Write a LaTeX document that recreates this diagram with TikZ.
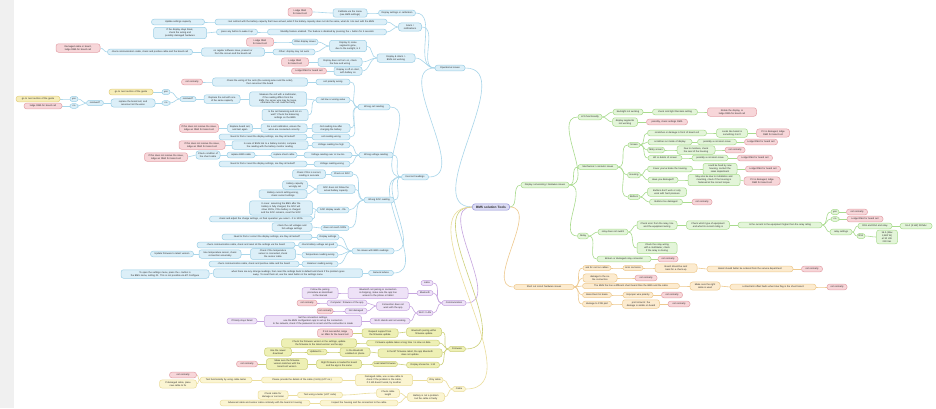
\documentclass[tikz,border=0pt]{standalone}
\usepackage{fontspec}
\setmainfont{Liberation Sans}
\pgfdeclarelayer{bgA}\pgfdeclarelayer{bgB}\pgfsetlayers{bgA,bgB,main}
\definecolor{bluF}{HTML}{DCEFF8}\definecolor{bluD}{HTML}{9CCFE6}\definecolor{bluE}{HTML}{A9D6EA}
\definecolor{pkF}{HTML}{F7D6D9}\definecolor{pkD}{HTML}{E4A1A8}
\definecolor{grnF}{HTML}{E3F5D9}\definecolor{grnD}{HTML}{A9DB8E}
\definecolor{ornF}{HTML}{FCEBCF}\definecolor{ornD}{HTML}{EEC98E}
\definecolor{purF}{HTML}{EEE2F7}\definecolor{purD}{HTML}{C6A5DF}
\definecolor{oliF}{HTML}{EEF0B5}\definecolor{oliD}{HTML}{CDD07A}
\definecolor{lyeF}{HTML}{FBF5D2}\definecolor{lyeD}{HTML}{EBDD9C}
\definecolor{yelF}{HTML}{F6EDB9}\definecolor{yelD}{HTML}{E3CF80}
\definecolor{ceF}{HTML}{DCDCF4}\definecolor{ceD}{HTML}{8F8FD6}
\tikzset{
 base/.style={rounded corners=2.5pt, inner xsep=1.5pt, inner ysep=1.7pt, align=center,
   font=\fontsize{2.35}{2.9}\selectfont, line width=0.5pt, text=black!85},
 blu/.style={base, fill=bluF, draw=bluD},
 pk/.style={base, fill=pkF, draw=pkD},
 grn/.style={base, fill=grnF, draw=grnD},
 orn/.style={base, fill=ornF, draw=ornD},
 pur/.style={base, fill=purF, draw=purD},
 oli/.style={base, fill=oliF, draw=oliD},
 lye/.style={base, fill=lyeF, draw=lyeD},
 yel/.style={base, fill=yelF, draw=yelD},
 ce/.style={base, fill=ceF, draw=ceD, inner ysep=2pt, font=\fontsize{3.2}{3.8}\selectfont\bfseries},
 eblu/.style={draw=bluE, line width=0.6pt},
 egrn/.style={draw=grnD, line width=0.6pt},
 eorn/.style={draw=ornD, line width=0.6pt},
 epur/.style={draw=purD, line width=0.6pt},
 eoli/.style={draw=oliD, line width=0.6pt},
 elye/.style={draw=lyeD, line width=0.6pt},
}
\newcommand\MN[6]{\node[#2,text width=#5pt] (#1) at (#3,#4) {#6};}
\begin{document}
\begin{tikzpicture}[x=1pt,y=-1pt]
\useasboundingbox (0,0) rectangle (936,408);
\begin{pgfonlayer}{bgA}
\fill[white] (0,0) rectangle (936,408);
\fill[black!6] (0,0) rectangle (14,408);
\end{pgfonlayer}
% center
\MN{ctr}{ce}{491}{207}{34}{BMS solution Tools}
% ---------------- BLUE -----------------
\MN{op}{blu}{450}{68}{27}{Operational issues}
\MN{al}{blu}{410}{27}{20}{Alarm /\\notifications}
\MN{ds}{blu}{397}{13}{34}{Display settings or calibration}
\MN{dsa}{blu}{350}{13}{31}{Calibrate via the menu\\(see BMS settings)}
\MN{dsb}{pk}{300}{12}{21}{Lodge RMA for board cell}
\MN{ala}{blu}{301}{22}{169}{I set cell/cell with the battery capacity that have arrived, what if the battery capacity does not do the same, what do I do next with the BMS}
\MN{alaa}{blu}{178}{22}{50}{Update settings capacity}
\MN{alb}{blu}{327}{32}{116}{Standby feature enabled. The feature is disabled by pressing the + button for 3 seconds}
\MN{alba}{blu}{237}{32}{38}{press any button to wake it up}
\MN{albb}{blu}{180}{33}{50}{If the display stays black,\\check the wiring and\\possibly damaged hardware}
\MN{dn}{blu}{396}{58}{35}{Display \& Alarm > BMS not working}
\MN{dna}{blu}{348}{46}{34}{Display lit, some segments gone,\\due to the sunlight, is it}
\MN{dnaa}{blu}{305}{42}{23}{Other display issues}
\MN{dnaaa}{pk}{260}{42}{24}{Lodge RMA for board cell}
\MN{dnab}{blu}{294}{52}{39}{Other: display may not work}
\MN{dnaba}{blu}{233}{52}{60}{no regular software issue, present or\\from the screen and the board cell}
\MN{dnabb}{blu}{150}{52}{82}{check communication cable, check and positive cable and the board cell}
\MN{dnabc}{pk}{78}{48}{41}{Damaged cable or board,\\lodge RMA for board cell}
\MN{dnb}{blu}{340}{62}{41}{Display does not turn on, check\\the fuse and wiring}
\MN{dnba}{pk}{295}{62}{24}{Lodge RMA for board cell}
\MN{dnc}{blu}{348}{71}{25}{Display is off on start,\\with battery on}
\MN{dnca}{pk}{309}{71}{32}{Lodge RMA for board cell}
% incorrect readings
\MN{ir}{blu}{415}{177}{24}{Incorrect readings}
\MN{cr}{blu}{374}{107}{29}{Wrong cell reading}
\MN{cra}{blu}{333}{82}{31}{cell polarity wrong}
\MN{craa}{blu}{260}{82}{92}{Check the wiring of the cells (the sensing wires and the order),\\then reconnect the board}
\MN{crab}{pk}{192}{82}{18}{not normally}
\MN{crb}{blu}{333}{100}{31}{cell low or wrong value}
\MN{crba}{blu}{278}{99}{54}{Measure the cell with a multimeter,\\if the reading differs from the\\BMS, the sense wire may be loose,\\otherwise the cell could be faulty}
\MN{crbb}{blu}{285}{115}{43}{Is the cell balancing and not on\\wall? Check the balancing\\settings on the BMS}
\MN{crbc}{blu}{222}{99}{33}{Replace the cell with one\\of the same capacity}
\MN{crbd}{blu}{188}{99}{13}{resolved?}
\MN{ya}{blu}{166}{92}{5}{yes}
\MN{na}{blu}{166}{103}{5}{no}
\MN{ga}{yel}{131}{92}{41}{go to next section of the guide}
\MN{rb}{blu}{133}{103}{41}{replace the board cell, and\\reconnect all the wires}
\MN{rsv}{blu}{95}{103}{14}{resolved?}
\MN{yb}{blu}{74}{99}{5}{yes}
\MN{nb}{blu}{74}{106}{5}{no}
\MN{gb}{yel}{38}{99}{41}{go to next section of the guide}
\MN{lb}{pk}{43}{106}{35}{lodge RMA for board cell}
\MN{crc}{blu}{331}{128}{35}{Cell reading low after\\charging the battery}
\MN{crca}{blu}{284}{128}{43}{Do a cell calibration, ensure the\\wires are connected correctly}
\MN{crcb}{blu}{240}{128}{22}{Replace board cell,\\and test again}
\MN{crcc}{pk}{199}{128}{36}{If this does not resolve the issue,\\lodge an RMA for board cell}
\MN{crd}{blu}{331}{137}{35}{cell reading wrong}
\MN{crda}{blu}{263}{137}{85}{Need to find or reset the display settings, are they all tested?}
\MN{vr}{blu}{376}{155}{31}{Wrong voltage reading}
\MN{vra}{blu}{331}{145}{35}{Voltage reading too high}
\MN{vraa}{blu}{270}{145}{73}{In case of BMS link to a battery monitor, compare\\the reading with the battery monitor reading}
\MN{vrab}{pk}{202}{145}{43}{If this does not resolve the issue,\\lodge an RMA for board cell}
\MN{vrb}{blu}{328}{155}{45}{Voltage reading over or low too}
\MN{vrba}{blu}{284}{155}{23}{replace shunt cable}
\MN{vrbb}{blu}{241}{155}{25}{replace BMS cable}
\MN{vrbc}{blu}{208}{155}{21}{Check condition of\\the shunt cable}
\MN{vrbd}{pk}{166}{157}{40}{If this does not resolve the issue,\\lodge an RMA for board cell}
\MN{vrc}{blu}{332}{164}{33}{Voltage reading wrong}
\MN{vrca}{blu}{263}{164}{85}{Need to find or reset the display settings, are they all tested?}
\MN{sr}{blu}{379}{200}{27}{Wrong SOC reading}
\MN{sra}{blu}{342}{174}{19}{Check on SOC}
\MN{sraa}{blu}{309}{174}{30}{Check if this is correct,\\reading is accurate}
\MN{srb}{blu}{336}{189}{35}{SOC does not follow the\\actual battery capacity}
\MN{srba}{blu}{295}{185}{22}{battery capacity\\wrongly set}
\MN{srbb}{blu}{283}{194}{45}{Battery current setting wrong,\\check current settings}
\MN{src}{blu}{333}{210}{29}{SOC display reads - 0\%}
\MN{srca}{blu}{281}{208}{60}{In case: assuming the BMS after the\\battery is fully charged, the SOC will\\show 100\%, if the battery is charged\\and the SOC remains, reset the SOC}
\MN{srcb}{blu}{261}{219}{100}{check and adjust the charge settings, on float operation you select - 0 to 100\%}
\MN{srd}{blu}{335}{228}{25}{does not reach 100\%}
\MN{srda}{blu}{292}{227}{37}{check the cell voltages and\\full voltage settings}
\MN{ni}{blu}{373}{251}{39}{No issues with BMS readings}
\MN{nia}{blu}{328}{237}{19}{Display settings}
\MN{niaa}{blu}{267}{237}{87}{Need to find or correct the display settings, are they all tested?}
\MN{nib}{blu}{318}{245}{36}{check battery voltage set good}
\MN{niba}{blu}{246}{245}{95}{check communication cable, check and reset all the settings via the board}
\MN{nic}{blu}{320}{255}{33}{Temperature reading wrong}
\MN{nica}{blu}{273}{254}{42}{Check if the temperature\\sensor is connected, check\\the sensor cable}
\MN{nicb}{blu}{220}{254}{39}{Use temperature sensor, check\\connection accurately}
\MN{nicc}{blu}{172}{254}{40}{Update firmware to latest version}
\MN{nid}{blu}{320}{264}{33}{Balancer reading wrong}
\MN{nida}{blu}{254}{264}{87}{check communication cable, check and positive cable and the board}
\MN{gad}{blu}{381}{273}{22}{General advice}
\MN{gada}{blu}{288}{273}{146}{when there are any strange readings, then reset the settings back to default and check if the problem goes\\away. To reset them all, use the reset button in the settings menu}
\MN{gadb}{blu}{165}{274}{85}{To open the settings menu, press the + button in\\the BMS menu, setting 01. This is not possible via BT Configure}
% ---------------- PURPLE -----------------
\MN{cm}{pur}{454}{303}{21}{Communication}
\MN{cma}{pur}{427}{283}{9}{cable}
\MN{cmb}{pur}{425}{293}{13}{Bluetooth}
\MN{cmc}{pur}{425}{313}{13}{Wi-Fi / LAN}
\MN{cmba}{pur}{378}{293}{57}{Bluetooth not pairing or connection\\is dropping, make sure the app has\\access to the phone or tablet}
\MN{cmbb}{pur}{320}{293}{33}{Follow the pairing\\procedure as described\\in the manual}
\MN{cmca}{pur}{393}{306}{30}{Connection does not\\work with the app}
\MN{cmcaa}{pur}{347}{303}{37}{Computer: firmware of the app}
\MN{cmcab}{pk}{307}{303}{17}{not normally}
\MN{cmcb}{pur}{356}{311}{19}{Not damaged}
\MN{cmcba}{pk}{325}{311}{13}{not normally}
\MN{cmcc}{pur}{390}{321}{37}{Wi-Fi stands and not working}
\MN{cmcca}{pur}{313}{321}{94}{Set the connection settings,\\use the BMS configuration app to set up the connection\\to the network, check if the password is correct and the connection is made}
\MN{cmccb}{pur}{242}{321}{27}{If finally stays failed}
% ---------------- OLIVE -----------------
\MN{fw}{oli}{457}{349}{14}{Firmware}
\MN{fwa}{oli}{424}{332}{32}{Bluetooth pairing within\\firmware update}
\MN{fwaa}{oli}{380}{333}{33}{Request support from\\the firmware update}
\MN{fwab}{pk}{335}{333}{32}{If not successful, lodge\\an RMA for the board cell}
\MN{fwb}{oli}{403}{343}{70}{Firmware update takes a long time / is slow on data}
\MN{fwba}{oli}{319}{343}{72}{Check the firmware version in the settings, update\\the firmware to the latest version via the app}
\MN{fwc}{oli}{410}{353}{61}{Is the BT firmware latest, the app Bluetooth\\does not update}
\MN{fwca}{oli}{355}{352}{27}{Is the Bluetooth\\enabled on phone}
\MN{fwcb}{oli}{317}{352}{17}{Updated to ...}
\MN{fwcc}{oli}{278}{352}{24}{Use the newer download}
\MN{fwd}{oli}{423}{365}{30}{Display shows fw. 1.32}
\MN{fwda}{oli}{385}{364}{22}{Load latest firmware}
\MN{fwdb}{oli}{339}{364}{42}{Right firmware is loaded for board\\and the app is the same}
\MN{fwdc}{oli}{287}{364}{38}{Make sure the firmware\\version matches with the\\board cell version}
\MN{fwdd}{pk}{247}{364}{18}{not normally}
% ---------------- CABLE -----------------
\MN{cb}{lye}{459}{389}{10}{Cable}
\MN{cba}{lye}{435}{380}{13}{Only cable}
\MN{cbaa}{lye}{384}{380}{54}{Damaged cable, use a new cable to\\check if the problem is the cable,\\if it still doesn't work, try another}
\MN{cbab}{lye}{302}{380}{78}{Please provide the details of the cable (3 kits) (LOT no.)}
\MN{cbac}{lye}{226}{380}{49}{Test functionality by using cable tester}
\MN{cbad}{pk}{183}{375}{24}{not normally}
\MN{cbae}{lye}{178}{384}{34}{If damaged cable, place\\new cable to fix}
\MN{cbb}{lye}{426}{397}{34}{Battery is not a problem\\but the cable is faulty}
\MN{cbba}{lye}{388}{393}{20}{Check cable\\length}
\MN{cbbb}{lye}{320}{395}{42}{Test using a tester (LOT code)}
\MN{cbbc}{lye}{273}{395}{27}{Check cable for\\damage or corrosion}
\MN{cbbd}{lye}{359}{403}{75}{Inspect the housing and the connection to the cable}
\MN{cbbe}{lye}{265}{403}{87}{Advanced cable and sensor cable continuity with the board in housing}
% ---------------- GREEN -----------------
\MN{hw}{grn}{545}{185}{45}{Display not working / hardware issues}
\MN{lcs}{grn}{590}{117}{21}{LCS functionality}
\MN{lcsa}{grn}{628}{112}{27}{backlight not working}
\MN{lcsaa}{grn}{675}{112}{42}{check cold light thermals setting}
\MN{lcsab}{pk}{732}{112}{46}{Rotate the display, or\\lodge RMA for board cell}
\MN{lcsb}{grn}{625}{122}{22}{display segments\\not working}
\MN{lcsba}{pk}{667}{122}{38}{possibly, check settings RMA}
\MN{mc}{grn}{598}{167}{37}{Mechanical / cosmetic issues}
\MN{sc}{grn}{634}{145}{9}{Screen}
\MN{sca}{grn}{677}{133}{56}{scratches or damage in front of board cell}
\MN{scaa}{grn}{732}{133}{28}{Looks like board is\\something it isn't}
\MN{scab}{pk}{773}{133}{30}{If it is damaged, lodge\\RMA for board cell}
\MN{scb}{grn}{670}{142}{41}{scratches on inside of display}
\MN{scba}{grn}{717}{142}{36}{possibly a corrosion issue}
\MN{scbb}{pk}{761}{142}{30}{Lodge RMA for board cell}
\MN{scc}{grn}{656}{150}{14}{Milky screen}
\MN{scca}{grn}{696}{150}{35}{Due to moisture, check\\the seal of the housing}
\MN{sccb}{pk}{735}{150}{17}{not normally}
\MN{scd}{grn}{665}{158}{31}{dirt or debris of screen}
\MN{scda}{grn}{710}{158}{33}{possibly a corrosion issue}
\MN{scdb}{pk}{755}{158}{32}{Lodge RMA for board cell}
\MN{hs}{grn}{634}{175}{10}{Housing}
\MN{hsa}{grn}{670}{169}{42}{Cover you've broke the housing}
\MN{hsaa}{grn}{720}{169}{31}{could be fixed by new\\housing, contact the\\sales department}
\MN{hsab}{pk}{763}{169}{32}{Lodge RMA for board cell}
\MN{hsb}{grn}{663}{180}{27}{Have you damaged?}
\MN{hsba}{grn}{714}{180}{49}{May also be due to installation and\\mounting, check if the housing is\\fastened at the correct torque}
\MN{hsbb}{pk}{762}{181}{33}{If it is damaged, lodge\\RMA for board cell}
\MN{bt}{grn}{634}{197}{9}{Buttons}
\MN{bta}{grn}{667}{192}{36}{Buttons don't work or only\\work with hard pressure}
\MN{btb}{grn}{666}{202}{30}{Buttons too damaged}
\MN{btba}{pk}{702}{202}{17}{not normally}
\MN{rl}{grn}{583}{236}{8}{Relay}
\MN{rla}{grn}{613}{232}{27}{relay does not switch}
\MN{rlaa}{grn}{657}{225}{37}{Check error from the relay, line\\and the equipment wiring}
\MN{rlab}{grn}{708}{225}{40}{Check which type of equipment\\and what its current rating is}
\MN{rlac}{grn}{780}{225}{81}{Is the current to the equipment higher than the relay rating}
\MN{ys}{grn}{835}{212}{5}{yes}
\MN{ysa}{pk}{857}{212}{18}{not normally}
\MN{nn}{grn}{835}{219}{5}{no}
\MN{nna}{pk}{865}{219}{33}{Lodge RMA for board cell}
\MN{rs}{grn}{841}{232}{19}{relay settings}
\MN{rsa}{grn}{875}{226}{31}{RS3 and RS4 and relay}
\MN{rsaa}{grn}{916}{226}{29}{16 A (3 kW) 230Vac}
\MN{rsb}{grn}{861}{236}{5}{RS1}
\MN{rsba}{grn}{887}{237}{18}{16 A (Max\\3,680 W)\\at 30 Vdc\\230 Vac}
\MN{rlad}{grn}{657}{248}{37}{Check the relay wiring\\with a multimeter, check\\if the relay is closing}
\MN{rlb}{grn}{624}{259}{51}{Broken or damaged relay connector}
\MN{rlba}{pk}{668}{259}{17}{not normally}
% ---------------- ORANGE -----------------
\MN{sh}{orn}{544}{287}{57}{Short cut circuit hardware issues}
\MN{sha}{orn}{597}{268}{25}{ask for rust on cables}
\MN{shaa}{orn}{633}{268}{17}{Ionic corrosion}
\MN{shab}{orn}{676}{268}{39}{Board should be sent\\back for a check-up}
\MN{shac}{orn}{750}{269}{83}{Board should better be ordered from the service department}
\MN{shad}{pk}{812}{269}{18}{not normally}
\MN{shb}{orn}{600}{278}{31}{damage to the cable connection}
\MN{shba}{pk}{646}{278}{19}{not normally}
\MN{shc}{orn}{631}{286}{94}{The BMS fire has a different shunt board than the BMS and the cable}
\MN{shca}{orn}{705}{286}{27}{Make sure the right\\cable is used}
\MN{shcb}{orn}{773}{287}{83}{a direct/anti offset faults when blue flag is the shunt board}
\MN{shcc}{pk}{837}{287}{17}{not normally}
\MN{shd}{orn}{597}{295}{26}{Board burnt \& break}
\MN{shda}{orn}{638}{295}{27}{Improper wire polarity}
\MN{shdb}{pk}{672}{295}{18}{not normally}
\MN{she}{orn}{597}{304}{26}{damage to PCB part}
\MN{shea}{orn}{641}{304}{34}{print \& burnt: the\\damage is visible on board}
\MN{sheb}{pk}{679}{304}{19}{not normally}
% ---------------- CONNECTORS -----------------
\begin{pgfonlayer}{bgB}
\draw[eblu] (ctr.west) to[out=180,in=0] (op.east);
\draw[epur] (ctr.west) to[out=180,in=0] (cm.east);
\draw[eoli] (ctr.west) to[out=180,in=0] (fw.east);
\draw[elye] (ctr.west) to[out=180,in=0] (cb.east);
\draw[egrn] (ctr.east) to[out=0,in=180] (hw.west);
\draw[eorn] (ctr.east) to[out=0,in=180] (sh.west);
\foreach \a/\b in {op/al,op/ds,op/dn,op/ir,ds/dsa,dsa/dsb,al/ala,al/alb,ala/alaa,alb/alba,alba/albb,
  dn/dna,dn/dnb,dn/dnc,dna/dnaa,dna/dnab,dnaa/dnaaa,dnab/dnaba,dnaba/dnabb,dnabb/dnabc,dnb/dnba,dnc/dnca,
  ir/cr,ir/vr,ir/sr,ir/ni,ir/gad,cr/cra,cr/crb,cr/crc,cr/crd,cra/craa,craa/crab,crb/crba,crb/crbb,
  crba/crbc,crbc/crbd,crbd/ya,crbd/na,ya/ga,na/rb,rb/rsv,rsv/yb,rsv/nb,yb/gb,nb/lb,
  crc/crca,crca/crcb,crcb/crcc,crd/crda,vr/vra,vr/vrb,vr/vrc,vra/vraa,vraa/vrab,vrb/vrba,vrba/vrbb,
  vrbb/vrbc,vrbc/vrbd,vrc/vrca,sr/sra,sr/srb,sr/src,sr/srd,sra/sraa,srb/srba,srb/srbb,src/srca,src/srcb,
  srd/srda,ni/nia,ni/nib,ni/nic,ni/nid,nia/niaa,nib/niba,nic/nica,nica/nicb,nicb/nicc,nid/nida,
  gad/gada,gada/gadb}
  \draw[eblu] (\a.west) to[out=180,in=0] (\b.east);
\foreach \a/\b in {cm/cma,cm/cmb,cm/cmc,cmb/cmba,cmba/cmbb,cmc/cmca,cmc/cmcc,cmca/cmcaa,cmca/cmcb,
  cmcaa/cmcab,cmcb/cmcba,cmcc/cmcca,cmcca/cmccb}
  \draw[epur] (\a.west) to[out=180,in=0] (\b.east);
\foreach \a/\b in {fw/fwa,fw/fwb,fw/fwc,fw/fwd,fwa/fwaa,fwaa/fwab,fwb/fwba,fwc/fwca,fwca/fwcb,fwcb/fwcc,
  fwd/fwda,fwda/fwdb,fwdb/fwdc,fwdc/fwdd}
  \draw[eoli] (\a.west) to[out=180,in=0] (\b.east);
\foreach \a/\b in {cb/cba,cb/cbb,cba/cbaa,cbaa/cbab,cbab/cbac,cbac/cbad,cbac/cbae,cbb/cbba,cbba/cbbb,
  cbbb/cbbc,cbb/cbbd,cbbd/cbbe}
  \draw[elye] (\a.west) to[out=180,in=0] (\b.east);
\foreach \a/\b in {hw/lcs,hw/mc,hw/rl,lcs/lcsa,lcs/lcsb,lcsa/lcsaa,lcsaa/lcsab,lcsb/lcsba,mc/sc,mc/hs,mc/bt,
  sc/sca,sc/scb,sc/scc,sc/scd,sca/scaa,scaa/scab,scb/scba,scba/scbb,scc/scca,scca/sccb,scd/scda,scda/scdb,
  hs/hsa,hs/hsb,hsa/hsaa,hsaa/hsab,hsb/hsba,hsba/hsbb,bt/bta,bt/btb,btb/btba,rl/rla,rl/rlb,rla/rlaa,
  rla/rlad,rlaa/rlab,rlab/rlac,rlac/ys,rlac/nn,rlac/rs,ys/ysa,nn/nna,rs/rsa,rs/rsb,rsa/rsaa,rsb/rsba,rlb/rlba}
  \draw[egrn] (\a.east) to[out=0,in=180] (\b.west);
\foreach \a/\b in {sh/sha,sh/shb,sh/shc,sh/shd,sh/she,sha/shaa,shaa/shab,shab/shac,shac/shad,shb/shba,
  shc/shca,shca/shcb,shcb/shcc,shd/shda,shda/shdb,she/shea,shea/sheb}
  \draw[eorn] (\a.east) to[out=0,in=180] (\b.west);
\end{pgfonlayer}
\end{tikzpicture}
\end{document}
